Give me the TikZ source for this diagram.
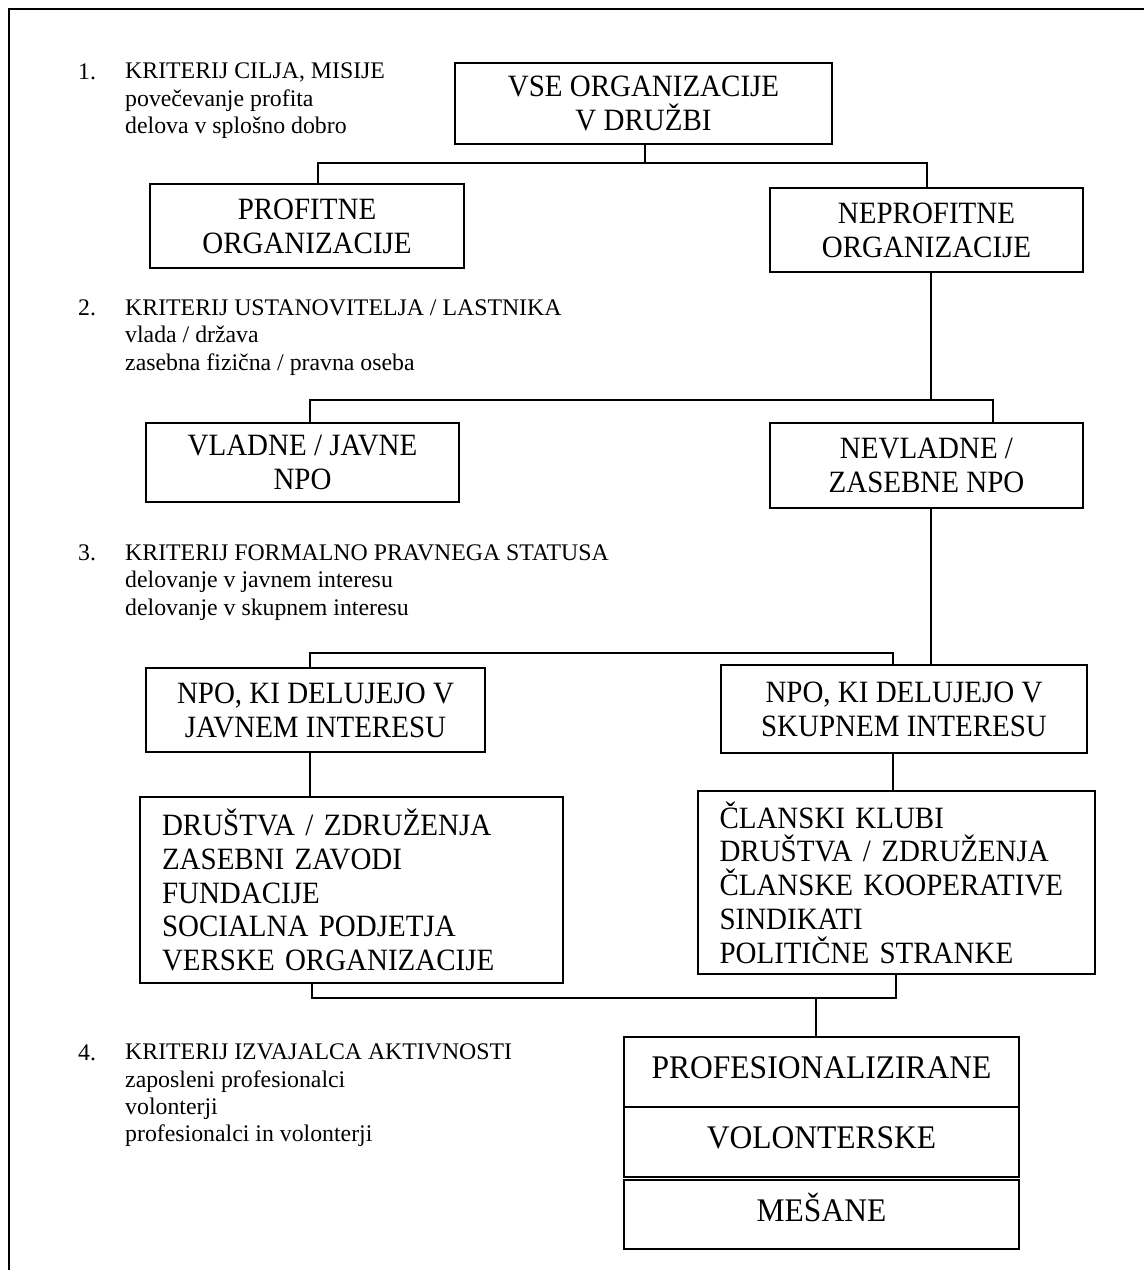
\documentclass[tikz,border=0pt]{standalone}
\usepackage{fontspec}
\setmainfont{Liberation Serif}
\newfontfamily\boxfont[FakeStretch=0.935]{Liberation Serif}
\newfontfamily\rowfont[FakeStretch=0.955]{Liberation Serif}

\begin{document}
\begin{tikzpicture}[x=1pt,y=-1pt,
  frame/.style={line width=2pt},
  box/.style={draw, line width=2pt, inner sep=0pt, align=center,
    font=\boxfont\fontsize{31}{34}\selectfont},
  listbox/.style={draw, line width=2pt, inner ysep=0pt, align=left,
    font=\boxfont\fontsize{31}{33.8}\selectfont},
  rowbox/.style={draw, line width=2pt, inner sep=0pt, minimum width=395,
    font=\rowfont\fontsize{33}{36}\selectfont, text height=23pt, text depth=10pt},
  conn/.style={line width=1.8pt},
  num/.style={anchor=base west, inner sep=0pt,
    font=\fontsize{23.8}{27.3}\selectfont},
  crit/.style={anchor=base west, inner sep=0pt, align=left,
    font=\fontsize{23.8}{27.3}\selectfont},
]
\clip (0,0) rectangle (1144,1270);
\draw[frame] (9,9) rectangle (1170,1300);

% criteria texts (the text nodes sit on the baseline of their last line)
\node[num] (n1) at (78,79) {1.};
\node[crit] (c1) at (125,133.3) {KRITERIJ CILJA, MISIJE\\povečevanje profita\\delova v splošno dobro};
\node[num] (n2) at (78,315) {2.};
\node[crit] (c2) at (125,370) {KRITERIJ USTANOVITELJA / LASTNIKA\\vlada / država\\zasebna fizična / pravna oseba};
\node[num] (n3) at (78,560) {3.};
\node[crit] (c3) at (125,615) {KRITERIJ FORMALNO PRAVNEGA STATUSA\\delovanje v javnem interesu\\delovanje v skupnem interesu};
\node[num] (n4) at (78,1060) {4.};
\node[crit] (c4) at (125,1141.7) {KRITERIJ IZVAJALCA AKTIVNOSTI\\zaposleni profesionalci\\volonterji\\profesionalci in volonterji};

% boxes
\node[box, minimum width=377, minimum height=81] (all) at (643.5,103.5) {VSE ORGANIZACIJE\\V DRUŽBI};
\node[box, minimum width=314, minimum height=84] (prof) at (307,226) {PROFITNE\\ORGANIZACIJE};
\node[box, minimum width=313, minimum height=84] (nonprof) at (926.5,230) {NEPROFITNE\\ORGANIZACIJE};
\node[box, minimum width=313, minimum height=79] (gov) at (302.5,462.5) {VLADNE / JAVNE\\NPO};
\node[box, minimum width=313, minimum height=85] (ngo) at (926.5,465.5) {NEVLADNE /\\ZASEBNE NPO};
\node[box, minimum width=339, minimum height=84] (public) at (315.5,710) {NPO, KI DELUJEJO V\\JAVNEM INTERESU};
\node[box, minimum width=366, minimum height=88] (mutual) at (904,709) {NPO, KI DELUJEJO V\\SKUPNEM INTERESU};
\node[listbox, inner xsep=22pt, text width=379pt, minimum height=186] (publist) at (351.5,890)
  {DRUŠTVA / ZDRUŽENJA\\ZASEBNI ZAVODI\\FUNDACIJE\\SOCIALNA PODJETJA\\VERSKE ORGANIZACIJE};
\node[listbox, inner xsep=21.5pt, text width=354pt, minimum height=183] (mutlist) at (896.5,882.5)
  {ČLANSKI KLUBI\\DRUŠTVA / ZDRUŽENJA\\ČLANSKE KOOPERATIVE\\SINDIKATI\\POLITIČNE STRANKE};
\node[rowbox, minimum height=70] (paid) at (821.5,1072) {PROFESIONALIZIRANE};
\node[rowbox, minimum height=70] (vol) at (821.5,1142) {VOLONTERSKE};
\node[rowbox, minimum height=69] (mixed) at (821.5,1214.5) {MEŠANE};

% junction points of the connectors
\coordinate (b1M) at (645,163);
\coordinate (b1L) at (317.6,163);
\coordinate (b1R) at (927,163);
\coordinate (b2M) at (931,400);
\coordinate (b2L) at (310,400);
\coordinate (b2R) at (993,400);
\coordinate (b3L) at (310,653);
\coordinate (b3R) at (893,653);
\coordinate (b4L) at (312,998);
\coordinate (b4R) at (896,998);
\coordinate (b4M) at (816,998);

% connectors
\draw[conn] (all.south -| b1M) -- (b1M);
\draw[conn] (prof.north -| b1L) -- (b1L) -- (b1R) -- (nonprof.north -| b1R);
\draw[conn] (nonprof.south -| b2M) -- (b2M);
\draw[conn] (gov.north -| b2L) -- (b2L) -- (b2R) -- (ngo.north -| b2R);
\draw[conn] (ngo.south -| b2M) -- (mutual.north -| b2M);
\draw[conn] (public.north -| b3L) -- (b3L) -- (b3R) -- (mutual.north -| b3R);
\draw[conn] (public.south -| b3L) -- (publist.north -| b3L);
\draw[conn] (mutual.south -| b3R) -- (mutlist.north -| b3R);
\draw[conn] (publist.south -| b4L) -- (b4L) -- (b4R) -- (mutlist.south -| b4R);
\draw[conn] (b4M) -- (paid.north -| b4M);
\end{tikzpicture}
\end{document}
